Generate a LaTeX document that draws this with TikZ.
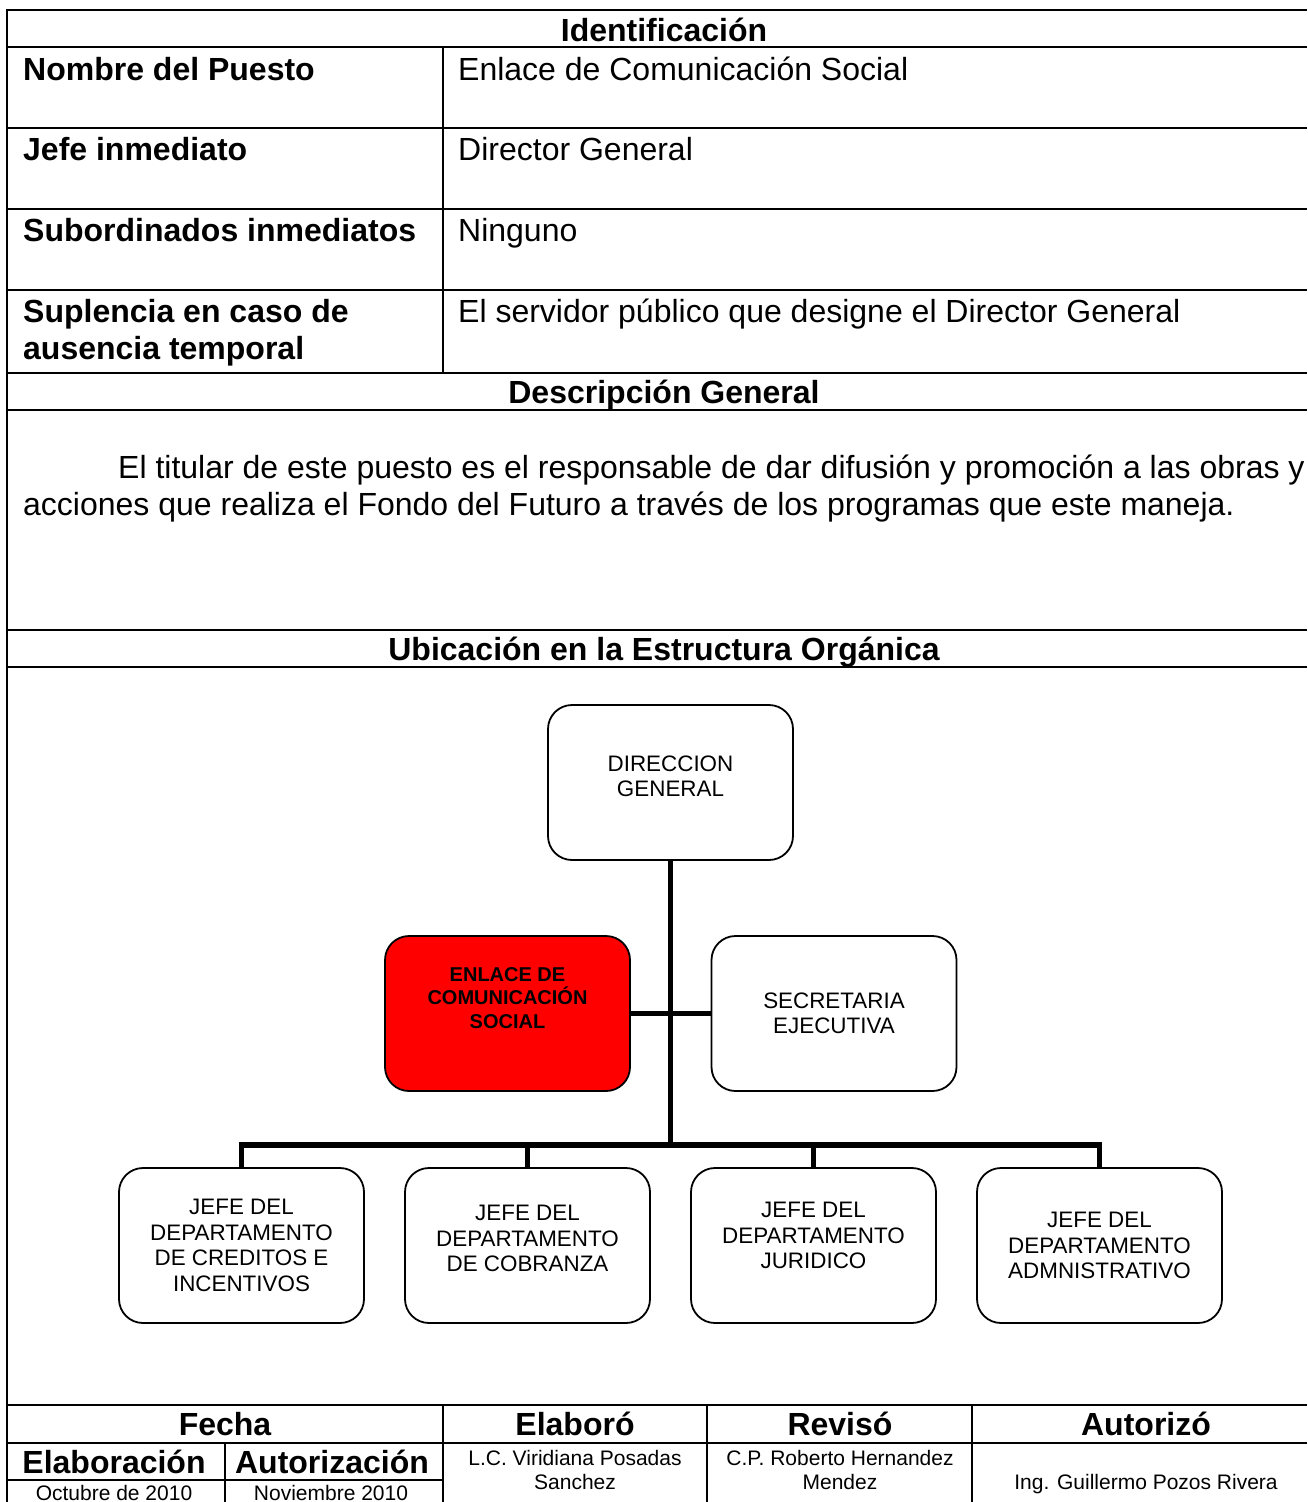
\documentclass[tikz,border=0pt]{standalone}
\usepackage{fontspec}
\setmainfont{Liberation Sans}
\begin{document}
\begin{tikzpicture}[x=1pt,y=-1pt,
  rule/.style={line width=2.5pt},
  hd/.style={font=\fontsize{32}{36}\selectfont\bfseries, anchor=base, inner sep=0pt},
  lbl/.style={font=\fontsize{32}{37}\selectfont\bfseries, anchor=base west, inner sep=0pt},
  val/.style={font=\fontsize{32}{37}\selectfont, anchor=base west, inner sep=0pt},
  sml/.style={font=\fontsize{21}{24}\selectfont, inner sep=0pt, align=center},
  org/.style={draw=black, line width=1.8pt, rounded corners=24pt, minimum width=245pt,
    minimum height=155pt, align=center, inner sep=0pt, fill=white,
    font=\fontsize{22.4}{25.5}\selectfont},
  link/.style={line width=5.5pt}
]
\useasboundingbox (0,0) rectangle (1307,1502);
\fill[white] (0,0) rectangle (1307,1502);

% ---- table rules ----
\draw[rule] (7,8.75) -- (7,1502);
\foreach \yy in {10,47,128,209,290,373,410,630,667,1405,1443}
  \draw[rule] (5.75,\yy) -- (1307,\yy);
\draw[rule] (7,1480) -- (443,1480);
\draw[rule] (443,47) -- (443,373);
\foreach \xx in {443,707,972}
  \draw[rule] (\xx,1405) -- (\xx,1502);
\draw[rule] (225,1443) -- (225,1502);

% ---- identification block ----
\node[hd] (tIdent) at (664,41) {Identificación};
\node[lbl] (lNombre) at (23,80) {Nombre del Puesto};
\node[val] (vNombre) at (458,80) {Enlace de Comunicación Social};
\node[lbl] (lJefe) at (23,160) {Jefe inmediato};
\node[val] (vJefe) at (458,160) {Director General};
\node[lbl] (lSub) at (23,241) {Subordinados inmediatos};
\node[val] (vSub) at (458,241) {Ninguno};
\node[lbl] (lSup1) at (23,322) {Suplencia en caso de};
\node[lbl] (lSup2) at (23,359) {ausencia temporal};
\node[val] (vSup) at (458,322) {El servidor público que designe el Director General};

% ---- general description ----
\node[hd] (tDesc) at (664,403) {Descripción General};
\node[val] (p1) at (118,478) {El titular de este puesto es el responsable de dar difusión y promoción a las obras y};
\node[val] (p2) at (23,515) {acciones que realiza el Fondo del Futuro a través de los programas que este maneja.};

% ---- organisation chart ----
\node[hd] (tUbic) at (664,660) {Ubicación en la Estructura Orgánica};

\node[org] (dg) at (670.5,782.5) {DIRECCION\\GENERAL\\[-13pt]\mbox{}};
\node[org, fill=red, font=\fontsize{20}{23.5}\selectfont\bfseries] (enl) at (507.5,1013.5)
  {ENLACE DE\\COMUNICACIÓN\\SOCIAL\\[8pt]\mbox{}};
\node[org] (sec) at (834,1013.5) {SECRETARIA\\EJECUTIVA};
\node[org] (j1) at (241.5,1245.5) {JEFE DEL\\DEPARTAMENTO\\DE CREDITOS E\\INCENTIVOS};
\node[org] (j2) at (527.5,1245.5) {JEFE DEL\\DEPARTAMENTO\\DE COBRANZA\\[-12pt]\mbox{}};
\node[org] (j3) at (813.5,1245.5) {JEFE DEL\\DEPARTAMENTO\\JURIDICO\\[-6pt]\mbox{}};
\node[org] (j4) at (1099.5,1245.5) {JEFE DEL\\DEPARTAMENTO\\ADMNISTRATIVO};

\coordinate (bar) at (670.5,1145);
\draw[link] (dg.south) -- (bar);
\draw[link] (enl.east) -- (sec.west);
\draw[link, line join=miter] (j1.north) |- (bar) -| (j4.north);
\draw[link] (j2.north) -- (j2.north |- bar);
\draw[link] (j3.north) -- (j3.north |- bar);

% ---- signature block ----
\node[hd] (tFecha) at (225,1435) {Fecha};
\node[hd] (tElab) at (575,1435) {Elaboró};
\node[hd] (tRev) at (840,1435) {Revisó};
\node[hd] (tAut) at (1146,1435) {Autorizó};
\node[hd] (tElabF) at (114,1473) {Elaboración};
\node[hd] (tAutF) at (332,1473) {Autorización};
\node[sml, anchor=base] (dElab) at (114,1500) {Octubre de 2010};
\node[sml, anchor=base] (dAut) at (331,1500) {Noviembre 2010};
\node[sml] (nElab) at (575,1470) {L.C. Viridiana Posadas\\Sanchez};
\node[sml] (nRev) at (840,1470) {C.P. Roberto Hernandez\\Mendez};
\node[sml, anchor=base] (nAut) at (1146,1489) {Ing. Guillermo Pozos Rivera};
\end{tikzpicture}
\end{document}
